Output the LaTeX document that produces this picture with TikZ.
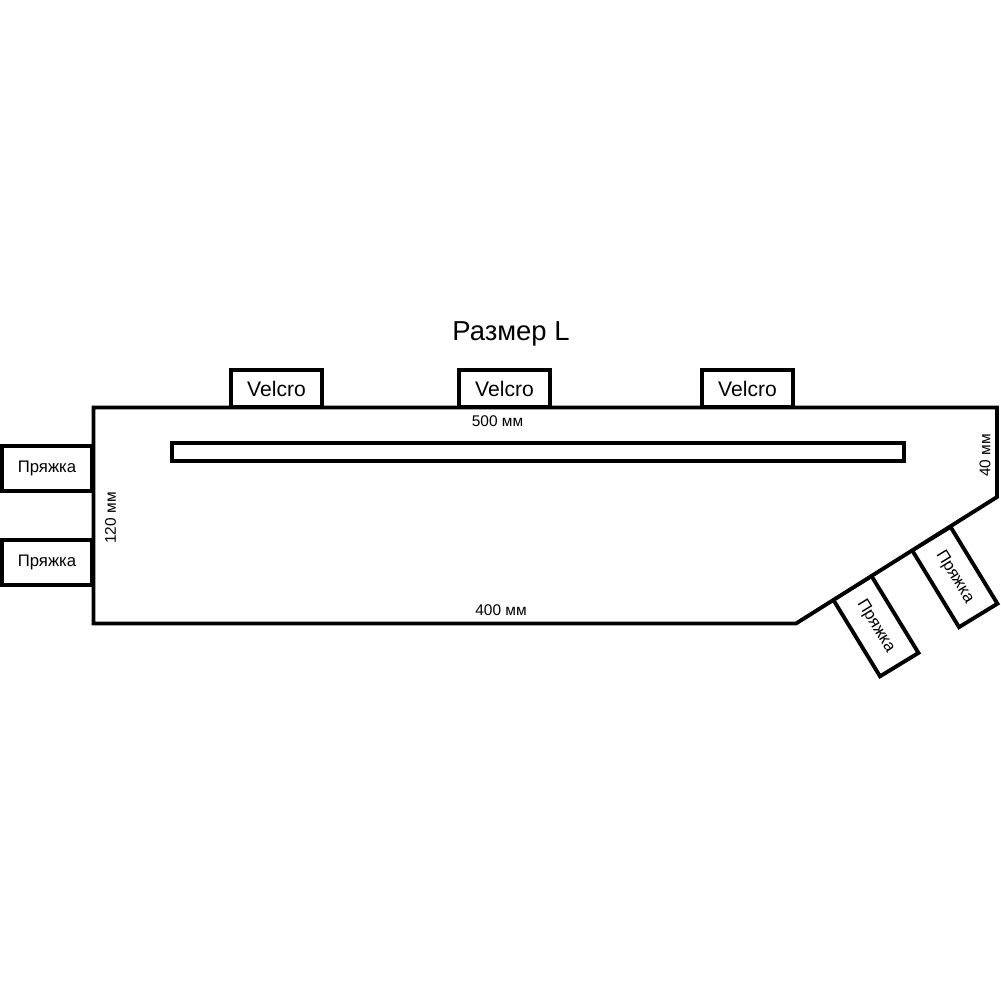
\documentclass[tikz,border=0pt]{standalone}
\usepackage{fontspec}
\setmainfont{Liberation Sans}
\tikzset{
  strapbox/.style={draw=black,line width=1.1pt,fill=white,inner sep=0pt,minimum width=90*.1mm,minimum height=45*.1mm,font=\fontsize{4.75}{6}\selectfont},
  velcrobox/.style={draw=black,line width=1.1pt,fill=white,inner sep=0pt,minimum width=91*.1mm,minimum height=37*.1mm,font=\fontsize{6}{7}\selectfont},
  sizelabel/.style={inner sep=0pt,font=\fontsize{4.4}{5}\selectfont}
}
\begin{document}
\begin{tikzpicture}[x=.1mm,y=-.1mm]
\useasboundingbox (0,0) rectangle (1000,1000);
\fill[white] (0,0) rectangle (1000,1000);
\node[inner sep=0pt,font=\fontsize{7.8}{9}\selectfont] (title) at (511,334) {Размер L};
% tabs on the top edge
\node[velcrobox] (velcroa) at (276.5,388.5) {Velcro};
\node[velcrobox] (velcrob) at (504.5,388.5) {Velcro};
\node[velcrobox] (velcroc) at (747.5,388.5) {Velcro};
% buckles
\node[strapbox] (bucklea) at (47,468.5) {\raisebox{-.6pt}{Пряжка}};
\node[strapbox] (buckleb) at (47,562.5) {\raisebox{-.6pt}{Пряжка}};
\node[strapbox,rotate=-58.6] (bucklec) at (875.8,626.2) {Пряжка};
\node[strapbox,rotate=-58.6] (buckled) at (954.8,577) {Пряжка};
% body and slot
\draw[black,line width=1.1pt,fill=white] (93.5,407.5)--(997,407.5)--(997,497)--(796,623.5)--(93.5,623.5)--cycle;
\draw[black,line width=1.1pt] (172,443) rectangle (904,461);
\node[sizelabel] (top) at (497.5,421.5) {500 мм};
\node[sizelabel] (bottom) at (501,610.5) {400 мм};
\node[sizelabel,rotate=90] (left) at (110.5,518) {120 мм};
\node[sizelabel,rotate=90] (right) at (985,455.5) {40 мм};
\end{tikzpicture}
\end{document}
